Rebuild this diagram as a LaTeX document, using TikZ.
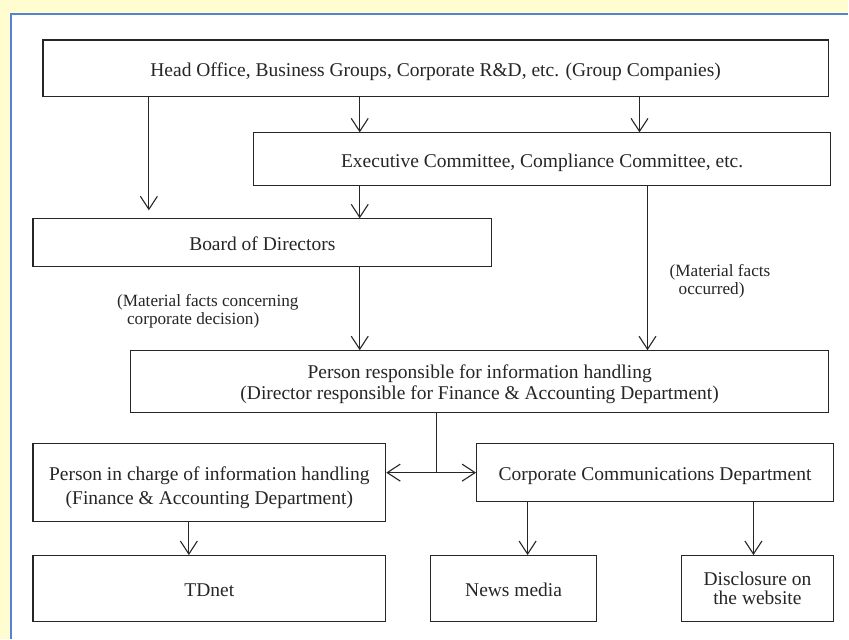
\documentclass[tikz,border=0pt]{standalone}
\usepackage{fontspec}
\setmainfont{Liberation Serif}
\usetikzlibrary{arrows.meta}
\definecolor{bgyellow}{RGB}{255,253,208}
\definecolor{panelblue}{RGB}{84,130,212}
\definecolor{ink}{RGB}{38,38,38}
\tikzset{
  box/.style={draw=ink, line width=1.1pt, fill=white, inner sep=0pt, align=center, text=ink,
    font=\fontsize{19.5}{21.5}\selectfont},
  onebox/.style={box, text height=16pt, text depth=0pt},
  arr/.style={draw=ink, line width=1.1pt, -{Straight Barb[length=13pt,width=17pt,line width=1.1pt]}},
  dblarr/.style={draw=ink, line width=1.1pt, {Straight Barb[length=13pt,width=17pt,line width=1.1pt]}-{Straight Barb[length=13pt,width=17pt,line width=1.1pt]}},
  plain/.style={draw=ink, line width=1.1pt},
  lbl/.style={inner sep=0pt, align=left, text=ink, anchor=north west,
    font=\fontsize{17.2}{18}\selectfont},
}
\begin{document}
\begin{tikzpicture}[x=1pt,y=-1pt]
\fill[bgyellow] (0,0) rectangle (849,639);
\fill[white] (11,14) rectangle (849,639);
\draw[panelblue, line width=1.3pt] (11,639) -- (11,14) -- (849,14);
\useasboundingbox (0,0) rectangle (849,639);

\node[onebox, minimum width=786pt, minimum height=57pt] (b1) at (436,68.5)
  {Head Office, Business Groups, Corporate R\&D, etc. (Group Companies)};
\node[onebox, minimum width=577pt, minimum height=53pt] (b2) at (542.5,159.5)
  {Executive Committee, Compliance Committee, etc.};
\node[onebox, minimum width=459pt, minimum height=48pt] (b3) at (262.5,243)
  {Board of Directors};
\node[box, minimum width=698pt, minimum height=62pt, font=\fontsize{19.5}{21.5}\selectfont] (b4) at (480,382)
  {\rule{0pt}{18.5pt}Person responsible for information handling\\(Director responsible for Finance \& Accounting Department)};
\node[box, minimum width=353pt, minimum height=78pt, font=\fontsize{19.5}{24.5}\selectfont] (b5) at (209.5,483)
  {\rule{0pt}{23.5pt}Person in charge of information handling\\(Finance \& Accounting Department)};
\node[onebox, minimum width=357pt, minimum height=58pt] (b6) at (655.5,473)
  {Corporate Communications Department};
\node[onebox, minimum width=353pt, minimum height=66pt] (b7) at (209.5,589) {TDnet};
\node[onebox, minimum width=166pt, minimum height=66pt] (b8) at (514,589) {News media};
\node[box, minimum width=152pt, minimum height=66pt, font=\fontsize{19.5}{19}\selectfont] (b9) at (758,589)
  {Disclosure on\\the website};

\node[lbl] (l1) at (117,294) {(Material facts concerning\\\hspace*{10pt}corporate decision)};
\node[lbl] (l2) at (670,264) {(Material facts\\\hspace*{9pt}occurred)};

\coordinate (xa) at (149,0);
\coordinate (xb) at (360,0);
\coordinate (xc) at (640,0);
\coordinate (xd) at (648,0);
\coordinate (xe) at (189,0);
\coordinate (xf) at (528,0);
\coordinate (xg) at (754,0);
\coordinate (j) at (437,473);

\draw[arr, shorten >=8pt] (b1.south -| xa) -- (b3.north -| xa);
\draw[arr] (b1.south -| xb) -- (b2.north -| xb);
\draw[arr] (b1.south -| xc) -- (b2.north -| xc);
\draw[arr] (b2.south -| xb) -- (b3.north -| xb);
\draw[arr] (b2.south -| xd) -- (b4.north -| xd);
\draw[arr] (b3.south -| xb) -- (b4.north -| xb);
\draw[plain] (b4.south -| j) -- (j);
\draw[dblarr] (b6.west -| b5.east) -- (b6.west);
\draw[arr] (b5.south -| xe) -- (b7.north -| xe);
\draw[arr] (b6.south -| xf) -- (b8.north -| xf);
\draw[arr] (b6.south -| xg) -- (b9.north -| xg);
\end{tikzpicture}
\end{document}
